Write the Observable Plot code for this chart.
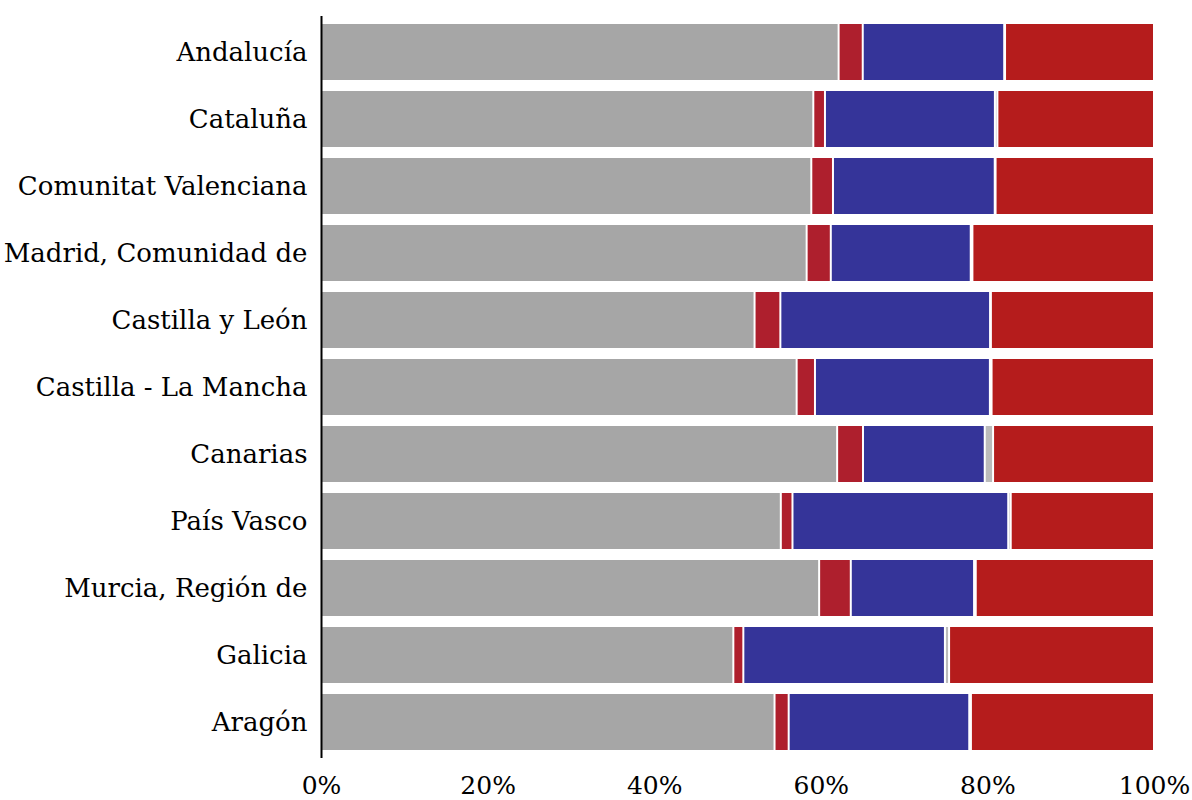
<!DOCTYPE html>
<html>
<head>
<meta charset="utf-8">
<script src="https://cdn.jsdelivr.net/npm/d3@7"></script>
<script src="https://cdn.jsdelivr.net/npm/@observablehq/plot@0.6"></script>
<style>
  html, body { margin: 0; padding: 0; background: #fff; }
</style>
</head>
<body>
<div id="chart"></div>
<script>
const regiones = ["Andalucía", "Cataluña", "Comunitat Valenciana", "Madrid, Comunidad de", "Castilla y León", "Castilla - La Mancha", "Canarias", "País Vasco", "Murcia, Región de", "Galicia", "Aragón"];
const series = ["Gris", "Rojo oscuro", "Azul", "Gris claro", "Rojo"];
const colores = ["#a6a6a6", "#ae1f2d", "#353499", "#bbbbbb", "#b51c1c"];

const gris       = [62.2, 59.1, 58.8, 58.3, 52.1, 57.1, 61.9, 55.2, 59.8, 49.5, 54.5];
const rojoOscuro = [2.9, 1.4, 2.6, 2.9, 3.1, 2.2, 3.1, 1.4, 3.8, 1.2, 1.7];
const azul       = [17.0, 20.4, 19.4, 16.8, 25.2, 21.0, 14.6, 25.9, 14.8, 24.2, 21.7];
const grisClaro  = [0.1, 0.3, 0.1, 0.2, 0.1, 0.2, 1.0, 0.3, 0.2, 0.5, 0.2];
const rojo       = [17.9, 18.8, 19.0, 21.8, 19.6, 19.5, 19.3, 17.2, 21.4, 24.6, 22.0];

const xTicks = [0, 0.2, 0.4, 0.6, 0.8, 1];

const valores = [gris, rojoOscuro, azul, grisClaro, rojo];
const data = [];
regiones.forEach((r, i) => {
  series.forEach((s, j) => {
    data.push({region: r, serie: s, v: valores[j][i]});
  });
});

const chart = Plot.plot({
  width: 1192,
  height: 800,
  marginLeft: 321,
  marginRight: 38,
  marginTop: 16,
  marginBottom: 42,
  style: {fontFamily: "'DejaVu Serif', serif", fontSize: "25px", color: "#000", background: "#fff"},
  x: {domain: [0, 1], label: null},
  y: {domain: regiones, paddingInner: 0.17, paddingOuter: 0.12, label: null},
  color: {domain: series, range: colores},
  marks: [
    Plot.barX(data, Plot.stackX({
      x: "v", y: "region", fill: "serie", order: series, offset: "normalize",
      insetLeft: 1, insetRight: 1
    })),
    Plot.ruleX([0], {stroke: "#000", strokeWidth: 2}),
    Plot.axisX({ticks: xTicks, tickFormat: d3.format(".0%"), tickSize: 0, tickPadding: 18, fontSize: 25, label: null}),
    Plot.axisY({tickSize: 0, tickPadding: 14, fontSize: 26, label: null})
  ]
});
document.getElementById("chart").appendChild(chart);
</script>
</body>
</html>
